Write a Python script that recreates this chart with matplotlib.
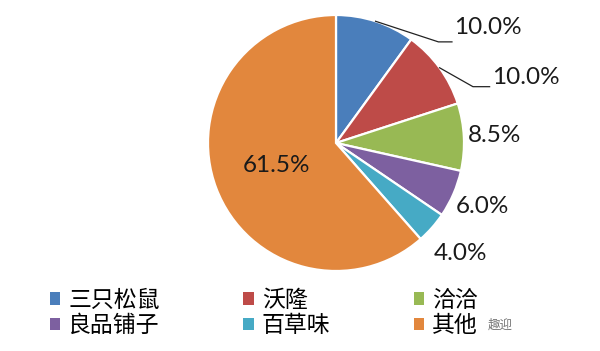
import numpy as np
import matplotlib.pyplot as plt
from matplotlib.patches import Patch

# market share of snack brands
brands = ["三只松鼠", "沃隆", "洽洽", "良品铺子", "百草味", "其他"]
shares = [10.0, 10.0, 8.5, 6.0, 4.0, 61.5]
colors = ["#4a7ebb", "#be4b48", "#98b954", "#7d60a0", "#46aac5", "#e2873d"]

plt.rcParams['font.family'] = ['Lato', 'DejaVu Sans']

fig = plt.figure(figsize=(6.0, 3.51), dpi=100)
# axes over the full figure, 128 px per data unit, pie centre at (336, 143) px
ax = fig.add_axes([0, 0, 1, 1])
wedges, _ = ax.pie(shares, colors=colors, startangle=90, counterclock=False,
                   wedgeprops=dict(edgecolor="white", linewidth=1.6))
ax.set_xlim(-336 / 128, (600 - 336) / 128)
ax.set_ylim(-208 / 128, (351 - 208) / 128)
ax.set_aspect('equal')
ax.axis('off')

# label radius per wedge; first two use leader lines
lab_r = [None, None, 1.24, 1.25, 1.3, 0.5]
for i, w in enumerate(wedges):
    mid = np.deg2rad((w.theta1 + w.theta2) / 2)
    txt = f"{shares[i]:.1f}%"
    if lab_r[i] is None:
        continue
    ax.text(lab_r[i] * np.cos(mid), lab_r[i] * np.sin(mid), txt,
            ha='center', va='center', fontsize=17.5, color="#1a1a1a")

# leader lines for the two top slices
elbows = [(0.80, 0.79, 0.906, 0.90), (1.07, 0.44, 1.20, 0.51)]
for i, (ex, ey, hx, ty) in enumerate(elbows):
    w = wedges[i]
    mid = np.deg2rad((w.theta1 + w.theta2) / 2)
    ax.plot([np.cos(mid), ex, hx], [np.sin(mid), ey, ey], color="#222222", lw=0.9)
    ax.text(hx + 0.02, ty, f"{shares[i]:.1f}%", ha='left', va='center',
            fontsize=17.5, color="#1a1a1a")

# legend fills column by column, so reorder to read row by row
order = [0, 3, 1, 4, 2, 5]
handles = [Patch(facecolor=colors[k], edgecolor='none') for k in order]
labels = [brands[k] for k in order]
fig.legend(handles, labels, loc='lower left', ncol=3, mode='expand',
           bbox_to_anchor=(50 / 600, 14 / 351, 428 / 600, 60 / 351),
           frameon=False, prop={'family': ['Noto Sans CJK SC'], 'size': 16.5},
           handlelength=0.45, handleheight=0.45, handletextpad=0.35,
           labelspacing=0.1, borderpad=0, borderaxespad=0)

# watermark
fig.text(488 / 600, 1 - 325 / 351, "趣迎", family=['Noto Sans CJK SC'],
         fontsize=9, color="#777777", ha='left', va='center')

fig.savefig("out.png", dpi=100)
